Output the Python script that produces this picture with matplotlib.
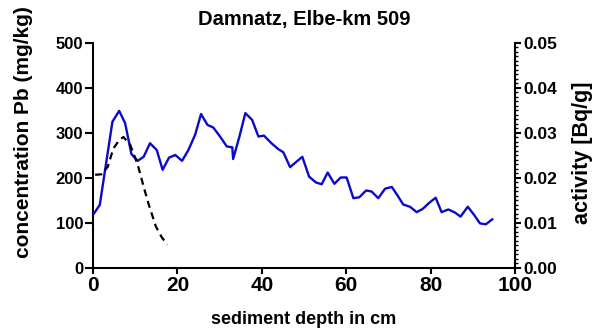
import matplotlib
matplotlib.use('Agg')
import matplotlib.pyplot as plt
from matplotlib.ticker import MultipleLocator, FormatStrFormatter

plt.rcParams['font.family'] = 'Liberation Sans'
plt.rcParams['font.weight'] = 'bold'

# Pb concentration profile (mg/kg) vs depth (cm)
depth_pb = [0.0, 1.6, 4.6, 6.2, 7.6, 9.1, 10.6, 12.0, 13.5, 15.1, 16.5, 18.0, 19.5,
            21.1, 22.6, 24.2, 25.6, 27.1, 28.5, 30.1, 31.7, 33.0, 33.2, 34.7, 36.1,
            37.7, 39.2, 40.5, 42.3, 43.9, 45.1, 46.7, 48.2, 49.6, 51.2, 52.8, 54.2,
            55.6, 57.2, 58.7, 60.1, 61.7, 63.1, 64.7, 66.0, 67.6, 69.2, 70.8, 72.1,
            73.5, 75.1, 76.7, 78.1, 79.7, 81.2, 82.6, 84.2, 85.8, 87.1, 88.8, 90.3,
            91.7, 93.1, 94.6]
pb = [118, 140, 325, 349, 322, 253, 238, 247, 277, 262, 218, 245, 251,
      238, 262, 296, 342, 318, 312, 292, 270, 268, 242, 292, 344,
      329, 292, 294, 277, 264, 257, 224, 236, 247, 203, 190, 186,
      212, 187, 201, 201, 155, 157, 172, 170, 155, 176, 180, 162,
      141, 136, 124, 131, 145, 156, 124, 130, 123, 114, 136, 118,
      99, 97, 108]

# activity (Bq/g) vs depth (cm)
depth_act = [0.5, 2.0, 3.5, 4.8, 6.2, 7.2, 8.8, 10.6, 11.9, 13.1, 14.9, 16.3, 17.6]
activity = [0.0207, 0.0208, 0.0225, 0.0265, 0.0284, 0.0291, 0.0274, 0.0229,
            0.0184, 0.0144, 0.0092, 0.0068, 0.0052]

fig = plt.figure(figsize=(5.94, 3.30), dpi=100)
ax = fig.add_axes([0.1566, 0.188, 0.7104, 0.682])
ax2 = ax.twinx()

ax.plot(depth_pb, pb, color='#0a0ac8', lw=1.7, zorder=3)
ax2.plot(depth_act, activity, color='black', lw=1.6, ls=(0, (3.2, 2.2)))

ax.set_xlim(0, 100)
ax.set_ylim(0, 500)
ax2.set_ylim(0, 0.05)
ax.xaxis.set_major_locator(MultipleLocator(20))
ax.yaxis.set_major_locator(MultipleLocator(100))
ax2.yaxis.set_major_locator(MultipleLocator(0.01))
ax2.yaxis.set_minor_locator(MultipleLocator(0.001))
ax2.yaxis.set_major_formatter(FormatStrFormatter('%.2f'))

for a in (ax, ax2):
    for s in a.spines.values():
        s.set_linewidth(1.5)
    a.spines['top'].set_visible(False)
ax.spines['right'].set_visible(False)
ax2.spines['left'].set_visible(False)
ax2.spines['bottom'].set_visible(False)

ax.tick_params(axis='x', direction='out', length=4, width=1.5, labelsize=15, pad=2)
ax.tick_params(axis='y', direction='out', length=6, width=1.5, labelsize=12, pad=1)
ax2.tick_params(axis='y', which='major', direction='out', length=4, width=1.5, labelsize=12.5, pad=2)
ax2.tick_params(axis='y', which='minor', direction='out', length=2.5, width=1)

ax.set_xlabel('sediment depth in cm', fontsize=13, fontweight='bold')
ax.xaxis.set_label_coords(0.5, -0.19)
ax.set_ylabel('concentration Pb (mg/kg)', fontsize=15, fontweight='bold')
ax.yaxis.set_label_coords(-0.142, 0.604)
ax2.set_ylabel('activity [Bq/g]', fontsize=15.5, fontweight='bold')
ax2.yaxis.set_label_coords(1.135, 0.511)
ax.set_title('Damnatz, Elbe-km 509', fontsize=14.5, fontweight='bold', pad=13)

fig.savefig('out.png', dpi=100)
